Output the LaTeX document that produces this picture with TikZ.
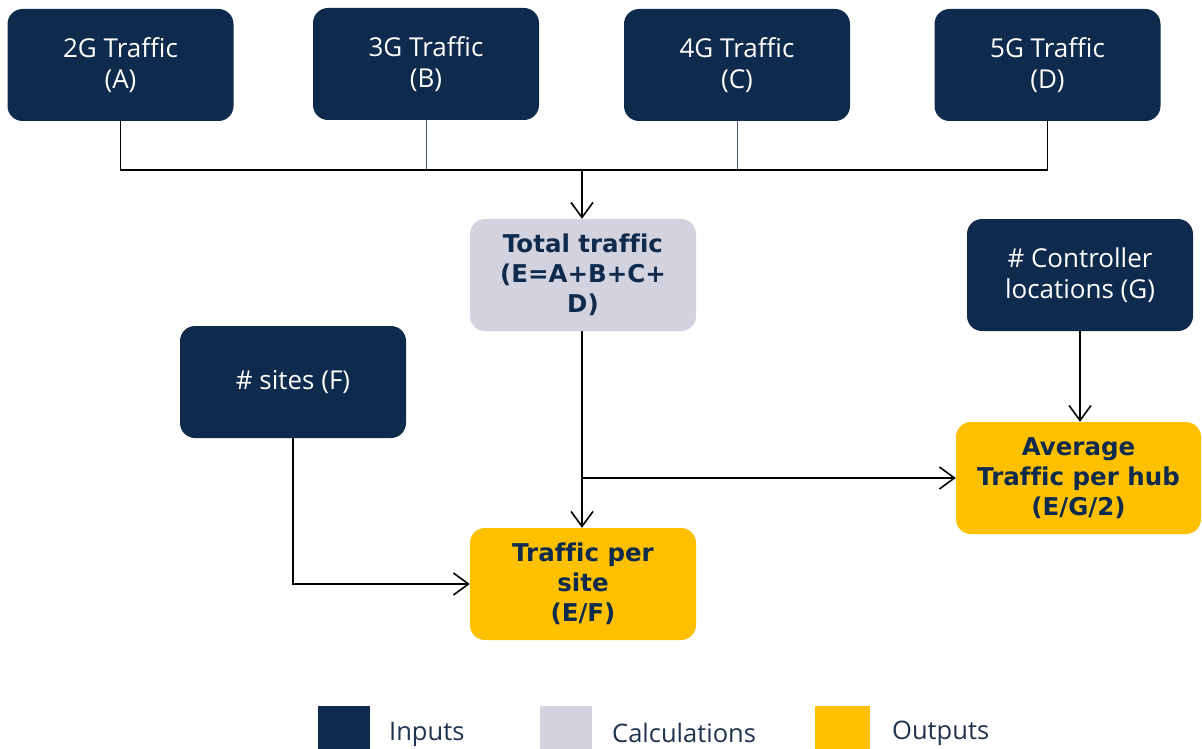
\documentclass[tikz,border=0pt]{standalone}
\usepackage{fontspec}
\setmainfont{Open Sans}[Ligatures={NoCommon}]
\newfontfamily\boldfam{DejaVu Sans}[Ligatures={NoCommon}]
\usetikzlibrary{arrows.meta}
\definecolor{navy}{HTML}{0E2A4D}
\definecolor{calcgray}{HTML}{D2D3DE}
\definecolor{outyellow}{HTML}{FFC000}
\definecolor{legtext}{HTML}{1F3350}
\definecolor{thinline}{HTML}{4A5A70}
\tikzset{
  inbox/.style={fill=navy, rounded corners=15pt, minimum width=226pt, minimum height=112pt,
    text=white, align=center, font=\fontsize{26}{31}\selectfont, inner sep=0pt},
  calcbox/.style={fill=calcgray, rounded corners=15pt, minimum width=226pt, minimum height=112pt,
    text=navy, align=center, font=\boldfam\bfseries\fontsize{24.5}{30}\selectfont, inner sep=0pt},
  outbox/.style={fill=outyellow, rounded corners=15pt, minimum width=226pt, minimum height=112pt,
    text=navy, align=center, font=\boldfam\bfseries\fontsize{24.5}{30}\selectfont, inner sep=0pt},
  conn/.style={draw=black, line width=1.8pt},
  arr/.style={conn, -{Straight Barb[length=15pt, width=22pt, line width=1.6pt]}},
  thinconn/.style={draw=thinline, line width=1pt},
  legsq/.style={minimum width=52pt, minimum height=43pt, inner sep=0pt, anchor=north west},
  legtxt/.style={text=legtext, font=\fontsize{25.5}{30}\selectfont, anchor=west, inner sep=0pt}
}
\begin{document}
\begin{tikzpicture}[x=1pt, y=-1pt]
\useasboundingbox (0,0) rectangle (1202,749);
% inputs
\node[inbox] (A) at (120.5,65) {2G Traffic\\(A)};
\node[inbox] (B) at (426,64) {3G Traffic\\(B)};
\node[inbox] (C) at (737,65) {4G Traffic\\(C)};
\node[inbox] (D) at (1047.5,65) {5G Traffic\\(D)};
% calc
\node[calcbox] (E) at (583,275) {Total traffic\\(E=A+B+C+\\D)};
\node[inbox] (F) at (293,382) {\# sites (F)};
\node[inbox] (G) at (1080,275) {\# Controller\\locations (G)};
% outputs
\node[outbox, minimum width=245pt] (H) at (1078.5,478) {Average\\Traffic per hub\\(E/G/2)};
\node[outbox] (S) at (583,584) {Traffic per\\site\\(E/F)};
% bus
\coordinate (bus) at (582,170);
\coordinate (branch) at (582,478);
\draw[thinconn] (B.south) -- (B.south |- bus);
\draw[thinconn] (C.south) -- (C.south |- bus);
\draw[conn] (A.south) |- (bus) -| (D.south);
\draw[arr] (bus) -- (bus |- E.north);
\draw[arr] (E.south -| bus) -- (bus |- S.north);
\draw[arr] (branch) -- (branch -| H.west);
\draw[arr] (F.south) |- (S.west);
\draw[arr] (G.south) -- (G.south |- H.north);
% legend
\node[legsq, fill=navy] (l1) at (318,706) {};
\node[legtxt] (t1) at (389,734) {Inputs};
\node[legsq, fill=calcgray] (l2) at (540,706) {};
\node[legtxt] (t2) at (612,733) {Calculations};
\node[legsq, fill=outyellow, minimum width=55pt] (l3) at (815,706) {};
\node[legtxt] (t3) at (892,733) {Outputs};
\end{tikzpicture}
\end{document}
